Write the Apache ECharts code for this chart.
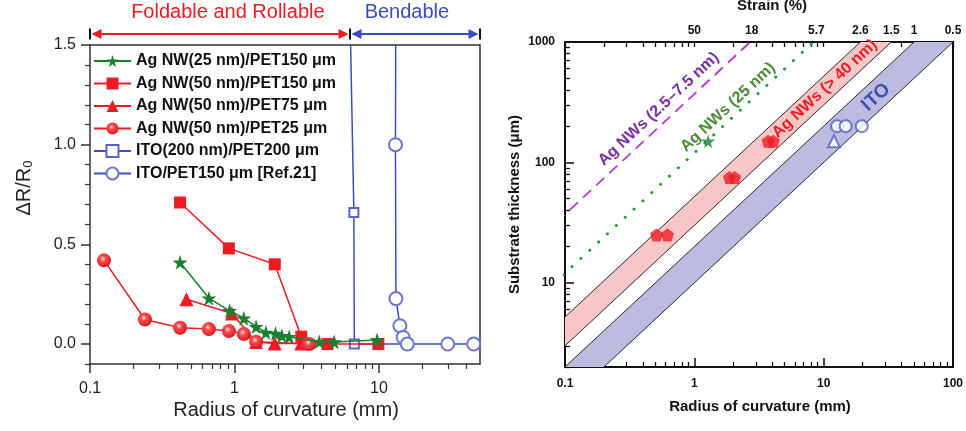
<!DOCTYPE html>
<html>
<head>
<meta charset="utf-8">
<script src="https://cdn.jsdelivr.net/npm/echarts@6/dist/echarts.min.js"></script>
<style>
html, body { margin: 0; padding: 0; background: #fff; }
#c { width: 966px; height: 431px; }
</style>
</head>
<body>
<div id="c"></div>
<script>
// ---------- Left panel: ΔR/R0 versus bending radius (mm) ----------
const nw25pet150R = [0.42, 0.665, 0.925, 1.16, 1.41, 1.65, 1.92, 2.13, 2.39, 3.86, 4.9, 9.7];
const nw25pet150V = [0.41, 0.23, 0.167, 0.13, 0.087, 0.058, 0.053, 0.042, 0.037, 0.012, 0.01, 0.02];

const nw50pet150R = [0.42, 0.914, 1.90, 2.9, 4.4, 9.9];
const nw50pet150V = [0.71, 0.48, 0.40, 0.037, 0.0, 0.0];

const nw50pet75R = [0.465, 0.96, 1.41, 1.90, 2.9];
const nw50pet75V = [0.225, 0.153, 0.01, 0.003, 0.003];

const nw50pet25R = [0.125, 0.24, 0.42, 0.665, 0.914, 1.16, 1.41, 3.29];
const nw50pet25V = [0.42, 0.123, 0.082, 0.075, 0.065, 0.05, 0.012, 0.0];

const ito200R = [5.8, 6.7, 6.75, 15.7];
const ito200V = [3.0, 0.66, 0.0, 0.0];

const ito150R = [13.2, 13.0, 13.1, 13.95, 14.7, 15.7, 29.9, 45.2];
const ito150V = [3.0, 1.0, 0.228, 0.092, 0.033, 0.0, 0.0, 0.0];

const legendNames = [
  'Ag NW(25 nm)/PET150 μm',
  'Ag NW(50 nm)/PET150 μm',
  'Ag NW(50 nm)/PET75 μm',
  'Ag NW(50 nm)/PET25 μm',
  'ITO(200 nm)/PET200 μm',
  'ITO/PET150 μm [Ref.21]'
];

const leftXMajor = [0.1, 1, 10];
const leftXMinor = [0.2, 0.3, 0.4, 0.5, 0.6, 0.7, 0.8, 0.9, 2, 3, 4, 5, 6, 7, 8, 9, 20, 30, 40];
const leftXRange = [0.1, 50];
const leftYMajor = [0, 0.5, 1.0, 1.5];
const leftYMinor = [-0.1, 0.1, 0.2, 0.3, 0.4, 0.6, 0.7, 0.8, 0.9, 1.1, 1.2, 1.3, 1.4];
const leftYRange = [-0.1, 1.5];
const bendableFrom = 6.3;   // radius separating the two regimes (mm)

// ---------- Right panel: substrate thickness (μm) versus radius (mm) ----------
const agNW40Band = [1.5, 2.6];   // strain limits (%) of the Ag NW (> 40 nm) band
const itoBand = [0.5, 1.0];      // strain limits (%) of the ITO band
const agNW25Strain = 6.0;        // dotted line (%)
const agNWThinStrain = 18.5;     // dashed line (%)

const agNW25Points = [[1.28, 150]];
const agNW40Points = [[0.51, 25], [0.62, 25], [1.87, 75], [2.05, 75], [3.72, 150], [4.08, 150]];
const itoCirclePoints = [[12.7, 200], [14.8, 200], [19.7, 200]];
const itoTrianglePoints = [[12.0, 150]];

const rightXMajor = [0.1, 1, 10, 100];
const rightXMinor = [0.2, 0.3, 0.4, 0.5, 0.6, 0.7, 0.8, 0.9, 2, 3, 4, 5, 6, 7, 8, 9, 20, 30, 40, 50, 60, 70, 80, 90];
const rightYMajor = [10, 100, 1000];
const rightYMinor = [2, 3, 4, 5, 6, 7, 8, 9, 20, 30, 40, 50, 60, 70, 80, 90, 200, 300, 400, 500, 600, 700, 800, 900];
const rightXRange = [0.1, 100];
const rightYRange = [2, 1000];
const strainTicks = ['50', '18', '5.7', '2.6', '1.5', '1', '0.5'];

const bandLabels = [
  { text: 'Ag NWs (2.5–7.5 nm)', R: 0.53, t: 277, color: '#7b2fa6', size: 16 },
  { text: 'Ag NWs (25 nm)', R: 1.82, t: 287, color: '#4b8b3b', size: 16 },
  { text: 'Ag NWs (> 40 nm)', R: 10.2, t: 408, color: '#ee1c25', size: 16 },
  { text: 'ITO', R: 25.4, t: 348, color: '#3f51b5', size: 19 }
];

// ---------- helpers ----------
const lg = Math.log10;
const FONT = '"Liberation Sans", Arial, sans-serif';
const fmtNum = v => String(Number(v.toPrecision(3)));
// thickness (μm) at which a film of radius R (mm) reaches strain e (%)
const thickness = (e, R) => 20 * e * R;

const RED = '#ec1c24', GREEN = '#1b7f2e', BLUE = '#3b4cc0';

const starPath = 'path://M50,0 L61,35 L98,35 L68,57 L79,91 L50,70 L21,91 L32,57 L2,35 L39,35 Z';
const pentagonPath = 'path://M50,0 L98,36 L80,95 L20,95 L2,36 Z';

function leftSeries(name, rs, vs, color, symbol, size, extra) {
  return Object.assign({
    name: name, type: 'line', xAxisIndex: 0, yAxisIndex: 0,
    data: rs.map((r, i) => [lg(r), vs[i]]),
    symbol: symbol, symbolSize: size, clip: true, z: 3,
    lineStyle: { color: color, width: 1.5 },
    itemStyle: { color: color }
  }, extra || {});
}

function strainLine(e, style) {
  return {
    type: 'line', xAxisIndex: 3, yAxisIndex: 3, clip: true, silent: true, z: 2,
    symbol: 'none',
    data: [0.001, 10000].map(r => [lg(r), lg(thickness(e, r))]),
    lineStyle: style
  };
}

function bandSeries(pair, fill) {
  return {
    type: 'custom', xAxisIndex: 3, yAxisIndex: 3, silent: true, z: 1, clip: true,
    data: [pair],
    renderItem: function (params, api) {
      const cs = params.coordSys;
      const lo = api.value(0), hi = api.value(1);
      const ends = [0.001, 10000];
      const pts = [
        [ends[0], lo], [ends[1], lo], [ends[1], hi], [ends[0], hi]
      ].map(([r, e]) => api.coord([lg(r), lg(thickness(e, r))]));
      return {
        type: 'polygon',
        shape: { points: pts },
        style: { fill: fill, stroke: '#2a2a2a', lineWidth: 1 },
        clipPath: { type: 'rect', shape: { x: cs.x, y: cs.y, width: cs.width, height: cs.height } }
      };
    }
  };
}

function pointSeries(name, pts, symbol, size, style) {
  return {
    name: name, type: 'scatter', xAxisIndex: 3, yAxisIndex: 3, z: 4,
    data: pts.map(p => [lg(p[0]), lg(p[1])]),
    symbol: symbol, symbolSize: size, itemStyle: style
  };
}

const sphereFill = new echarts.graphic.RadialGradient(0.42, 0.38, 0.65, [
  { offset: 0, color: '#ffe6e6' },
  { offset: 0.3, color: '#ff5050' },
  { offset: 1, color: '#d4121a' }
]);

const leftAxisLine = { show: true, onZero: false, lineStyle: { color: '#333', width: 1.5 } };
const rightAxisLine = { show: true, onZero: false, lineStyle: { color: '#111', width: 2 } };
const noLine = { show: false, onZero: false };

const option = {
  animation: false,
  backgroundColor: '#fff',
  textStyle: { fontFamily: FONT },
  grid: [
    { left: 90, top: 45, width: 390, height: 319 },
    { left: 565, top: 42, width: 392, height: 325 }
  ],
  legend: {
    data: legendNames,
    orient: 'vertical', left: 93, top: 53, padding: 0,
    itemWidth: 37, itemHeight: 15, itemGap: 6.5,
    textStyle: { fontFamily: FONT, fontWeight: 'bold', fontSize: 16, color: '#111', lineHeight: 15 },
    selectedMode: false
  },
  xAxis: [
    { // 0: left bottom, majors + labels
      type: 'value', gridIndex: 0, position: 'bottom',
      min: lg(leftXRange[0]), max: lg(leftXRange[1]),
      axisLine: leftAxisLine,
      axisTick: { customValues: leftXMajor.map(lg), length: 9, lineStyle: { color: '#333', width: 1.5 } },
      axisLabel: { customValues: leftXMajor.map(lg), formatter: v => fmtNum(Math.pow(10, v)), fontSize: 16, color: '#222', margin: 17 },
      splitLine: { show: false }
    },
    { // 1: left bottom, minor ticks
      type: 'value', gridIndex: 0, position: 'bottom',
      min: lg(leftXRange[0]), max: lg(leftXRange[1]),
      axisLine: noLine,
      axisTick: { customValues: leftXMinor.map(lg), length: 5, lineStyle: { color: '#333', width: 1.2 } },
      axisLabel: { show: false }, splitLine: { show: false }
    },
    { // 2: left top frame
      type: 'value', gridIndex: 0, position: 'top',
      min: lg(leftXRange[0]), max: lg(leftXRange[1]),
      axisLine: leftAxisLine, axisTick: { show: false }, axisLabel: { show: false }, splitLine: { show: false }
    },
    { // 3: right bottom, majors + labels
      type: 'value', gridIndex: 1, position: 'bottom',
      min: lg(rightXRange[0]), max: lg(rightXRange[1]),
      axisLine: rightAxisLine,
      axisTick: { inside: true, customValues: rightXMajor.map(lg), length: 9, lineStyle: { color: '#111', width: 1.5 } },
      axisLabel: { customValues: rightXMajor.map(lg), formatter: v => fmtNum(Math.pow(10, v)), fontSize: 12, fontWeight: 'bold', color: '#111', margin: 11 },
      splitLine: { show: false }
    },
    { // 4: right bottom, minor ticks
      type: 'value', gridIndex: 1, position: 'bottom',
      min: lg(rightXRange[0]), max: lg(rightXRange[1]),
      axisLine: noLine,
      axisTick: { inside: true, customValues: rightXMinor.map(lg), length: 5, lineStyle: { color: '#111', width: 1.3 } },
      axisLabel: { show: false }, splitLine: { show: false }
    },
    { // 5: right top, strain scale
      type: 'value', gridIndex: 1, position: 'top',
      min: lg(rightXRange[0]), max: lg(rightXRange[1]),
      axisLine: rightAxisLine,
      axisTick: { inside: true, customValues: rightXMajor.concat(rightXMinor).map(lg), length: 5, lineStyle: { color: '#111', width: 1.3 } },
      axisLabel: {
        customValues: strainTicks.map(s => lg(50 / parseFloat(s))),
        formatter: function (v) {
          const e = 50 / Math.pow(10, v);
          let best = strainTicks[0], d = Infinity;
          strainTicks.forEach(s => { const dd = Math.abs(lg(parseFloat(s)) - lg(e)); if (dd < d) { d = dd; best = s; } });
          return best;
        },
        fontSize: 12, fontWeight: 'bold', color: '#111', margin: 5
      },
      splitLine: { show: false }
    }
  ],
  yAxis: [
    { // 0: left, majors + labels
      type: 'value', gridIndex: 0, position: 'left',
      min: leftYRange[0], max: leftYRange[1],
      axisLine: leftAxisLine,
      axisTick: { customValues: leftYMajor, length: 9, lineStyle: { color: '#333', width: 1.5 } },
      axisLabel: { customValues: leftYMajor, formatter: v => v.toFixed(1), fontSize: 16, color: '#222', margin: 14 },
      splitLine: { show: false }
    },
    { // 1: left, minor ticks
      type: 'value', gridIndex: 0, position: 'left',
      min: leftYRange[0], max: leftYRange[1],
      axisLine: noLine,
      axisTick: { customValues: leftYMinor, length: 5, lineStyle: { color: '#333', width: 1.2 } },
      axisLabel: { show: false }, splitLine: { show: false }
    },
    { // 2: left panel right frame
      type: 'value', gridIndex: 0, position: 'right',
      min: leftYRange[0], max: leftYRange[1],
      axisLine: leftAxisLine, axisTick: { show: false }, axisLabel: { show: false }, splitLine: { show: false }
    },
    { // 3: right panel, majors + labels
      type: 'value', gridIndex: 1, position: 'left',
      min: lg(rightYRange[0]), max: lg(rightYRange[1]),
      axisLine: rightAxisLine,
      axisTick: { inside: true, customValues: rightYMajor.map(lg), length: 9, lineStyle: { color: '#111', width: 1.5 } },
      axisLabel: { customValues: rightYMajor.map(lg), formatter: v => fmtNum(Math.pow(10, v)), fontSize: 12, fontWeight: 'bold', color: '#111', margin: 10 },
      splitLine: { show: false }
    },
    { // 4: right panel, minor ticks
      type: 'value', gridIndex: 1, position: 'left',
      min: lg(rightYRange[0]), max: lg(rightYRange[1]),
      axisLine: noLine,
      axisTick: { inside: true, customValues: rightYMinor.map(lg), length: 5, lineStyle: { color: '#111', width: 1.3 } },
      axisLabel: { show: false }, splitLine: { show: false }
    },
    { // 5: right panel right frame
      type: 'value', gridIndex: 1, position: 'right',
      min: lg(rightYRange[0]), max: lg(rightYRange[1]),
      axisLine: rightAxisLine, axisTick: { show: false }, axisLabel: { show: false }, splitLine: { show: false }
    }
  ],
  series: [
    leftSeries(legendNames[0], nw25pet150R, nw25pet150V, GREEN, starPath, 15, { z: 4 }),
    leftSeries(legendNames[1], nw50pet150R, nw50pet150V, RED, 'rect', 12),
    leftSeries(legendNames[2], nw50pet75R, nw50pet75V, RED, 'triangle', 14),
    leftSeries(legendNames[3], nw50pet25R, nw50pet25V, RED, 'circle', 14,
      { itemStyle: { color: sphereFill }, lineStyle: { color: RED, width: 1.5 } }),
    leftSeries(legendNames[4], ito200R, ito200V, BLUE, 'emptyRect', 9,
      { z: 2, itemStyle: { color: '#5a64c8', borderWidth: 1.2 } }),
    leftSeries(legendNames[5], ito150R, ito150V, BLUE, 'emptyCircle', 13,
      { z: 2, itemStyle: { color: '#6d76cc', borderWidth: 1.2 } }),

    bandSeries(agNW40Band, '#f7c6c6'),
    bandSeries(itoBand, '#bcbce0'),
    strainLine(agNWThinStrain, { color: '#b43cc8', width: 1.8, type: [11, 7] }),
    strainLine(agNW25Strain, { color: '#1f9e3a', width: 3, type: [0.1, 12], cap: 'round' }),
    pointSeries('Ag NWs (25 nm)', agNW25Points, starPath, 14, { color: GREEN }),
    pointSeries('Ag NWs (> 40 nm)', agNW40Points, pentagonPath, 13, { color: RED }),
    pointSeries('ITO/PET', itoCirclePoints, 'emptyCircle', 12, { color: '#5560c0', borderWidth: 1.3 }),
    pointSeries('ITO', itoTrianglePoints, 'emptyTriangle', 12, { color: '#5560c0', borderWidth: 1.3 })
  ]
};

const chart = echarts.init(document.getElementById('c'));
chart.setOption(option);

// ---------- annotations ----------
const toL = p => chart.convertToPixel({ xAxisIndex: 0, yAxisIndex: 0 }, p);
const toR = p => chart.convertToPixel({ xAxisIndex: 3, yAxisIndex: 3 }, p);

const xStart = toL([lg(leftXRange[0]), 0])[0];
const xSplit = toL([lg(bendableFrom), 0])[0];
const xEnd = toL([lg(leftXRange[1]), 0])[0];
const yTop = toL([0, leftYRange[1]])[1];
const yBot = toL([0, leftYRange[0]])[1];
const arrowY = yTop - 11;

function arrow(x1, x2, color) {
  const h = 10, w = 5;
  return [
    { type: 'line', shape: { x1: x1 + 4, y1: arrowY, x2: x2 - 4, y2: arrowY }, style: { stroke: color, lineWidth: 2 } },
    { type: 'polygon', shape: { points: [[x1 + 1.5, arrowY], [x1 + 1.5 + h, arrowY - w], [x1 + 1.5 + h, arrowY + w]] }, style: { fill: color } },
    { type: 'polygon', shape: { points: [[x2 - 1.5, arrowY], [x2 - 1.5 - h, arrowY - w], [x2 - 1.5 - h, arrowY + w]] }, style: { fill: color } }
  ];
}
function bar(x) {
  return { type: 'line', shape: { x1: x, y1: arrowY - 5.5, x2: x, y2: arrowY + 5.5 }, style: { stroke: '#111', lineWidth: 2 } };
}

const graphics = []
  .concat(arrow(xStart, xSplit, RED))
  .concat(arrow(xSplit, xEnd, BLUE))
  .concat([bar(xStart), bar(xSplit), bar(xEnd)]);

const foldX = toL([lg(0.9), 0])[0];
const bendX = toL([lg(15.6), 0])[0];
graphics.push(
  { type: 'text', x: foldX, y: 12, style: { text: 'Foldable and Rollable', fill: RED, font: '20px ' + FONT, align: 'center', verticalAlign: 'middle' } },
  { type: 'text', x: bendX, y: 12, style: { text: 'Bendable', fill: BLUE, font: '20px ' + FONT, align: 'center', verticalAlign: 'middle' } },
  { type: 'text', x: (xStart + xEnd) / 2 + 1, y: yBot + 46, style: { text: 'Radius of curvature (mm)', fill: '#222', font: '20px ' + FONT, align: 'center', verticalAlign: 'middle' } },
  { type: 'text', x: 24, y: 188, rotation: Math.PI / 2,
    style: { text: 'ΔR/R{s|0}', fill: '#222', font: '20px ' + FONT, align: 'center', verticalAlign: 'middle',
      rich: { s: { fontSize: 13, fontFamily: FONT, verticalAlign: 'bottom', padding: [8, 0, 0, 0] } } } }
);

// right panel titles
const rL = toR([lg(rightXRange[0]), lg(rightYRange[0])]);
const rR = toR([lg(rightXRange[1]), lg(rightYRange[1])]);
graphics.push(
  { type: 'text', x: (rL[0] + rR[0]) / 2 + 1, y: rL[1] + 40, style: { text: 'Radius of curvature (mm)', fill: '#111', font: 'bold 15px ' + FONT, align: 'center', verticalAlign: 'middle' } },
  { type: 'text', x: 515, y: (rL[1] + rR[1]) / 2, rotation: Math.PI / 2, style: { text: 'Substrate thickness (μm)', fill: '#111', font: 'bold 15px ' + FONT, align: 'center', verticalAlign: 'middle' } },
  { type: 'text', x: 772, y: 6, style: { text: 'Strain (%)', fill: '#111', font: 'bold 15px ' + FONT, align: 'center', verticalAlign: 'middle' } }
);

// labels running along the strain lines
const pxPerDecX = (rR[0] - rL[0]) / (lg(rightXRange[1]) - lg(rightXRange[0]));
const pxPerDecY = (rL[1] - rR[1]) / (lg(rightYRange[1]) - lg(rightYRange[0]));
const angle = Math.atan2(pxPerDecY, pxPerDecX);
bandLabels.forEach(b => {
  const p = toR([lg(b.R), lg(b.t)]);
  graphics.push({ type: 'text', x: p[0], y: p[1], rotation: angle, z: 10,
    style: { text: b.text, fill: b.color, font: 'bold ' + b.size + 'px ' + FONT, align: 'center', verticalAlign: 'middle' } });
});

chart.setOption({ graphic: graphics });
</script>
</body>
</html>
